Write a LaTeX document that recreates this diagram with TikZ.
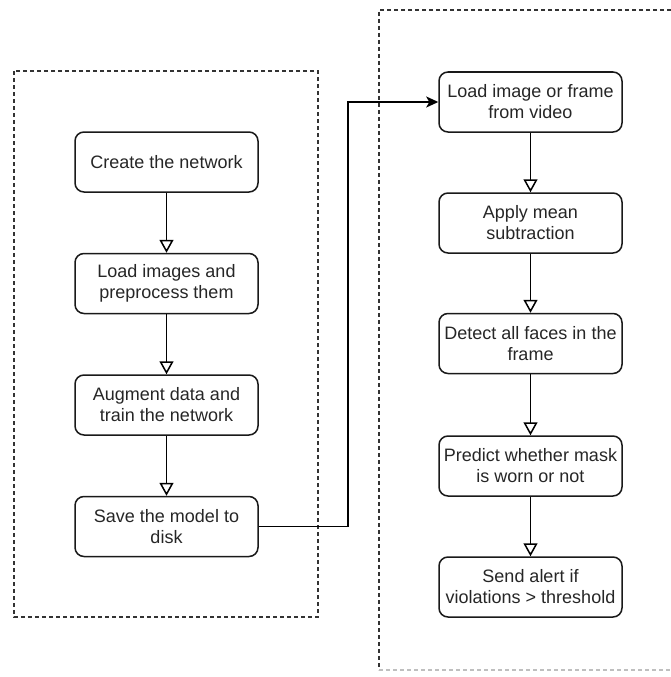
\documentclass[tikz,border=0pt]{standalone}
\usepackage{fontspec}
\setmainfont{Liberation Sans}
\usetikzlibrary{arrows.meta,positioning}
\tikzset{
  stepbox/.style={rectangle, rounded corners=9pt, draw=black!90, line width=1.5pt,
              minimum width=183pt, minimum height=60pt, inner sep=0pt, align=center,
              text=black!85, font=\fontsize{18}{21}\selectfont},
  grp/.style={draw=black!80, line width=1.3pt, dash pattern=on 4pt off 3pt},
  ar/.style={-{Triangle[open, width=14pt, length=13pt]}, line width=1.5pt},
  link/.style={-{Stealth[length=12pt, width=11pt, inset=3pt]}, line width=1.5pt},
}

\begin{document}
\begin{tikzpicture}[x=1pt,y=-1pt]
\useasboundingbox (0,0) rectangle (671,677);
% training side
\draw[grp] (14,71) rectangle (318,617);
% detection side
\draw[grp] (671,10) -- (379,10) -- (379,670);
\draw[grp, draw=black!25] (379,670) -- (671,670);
\foreach \n/\x/\y/\txt in {
 net/166.5/162/{Create the network},
 prep/166.5/283.5/{Load images and\\preprocess them},
 aug/166.5/405/{Augment data and\\train the network},
 save/166.5/526.5/{Save the model to\\disk},
 frame/530.5/102/{Load image or frame\\from video},
 mean/530.5/223/{Apply mean\\subtraction},
 faces/530.5/343.5/{Detect all faces in the\\frame},
 predict/530.5/466/{Predict whether mask\\is worn or not},
 alert/530.5/587/{Send alert if\\violations > threshold}} {
  \node[stepbox] (\n) at (\x,\y) {\txt};
}
\foreach \a/\b in {net/prep, prep/aug, aug/save, frame/mean, mean/faces,
                   faces/predict, predict/alert}
  \draw[ar] (\a) -- (\b);
\coordinate (jog) at (348,0);
\draw[link] (save.east) -- (save.east -| jog) |- (frame.west);
\end{tikzpicture}
\end{document}
